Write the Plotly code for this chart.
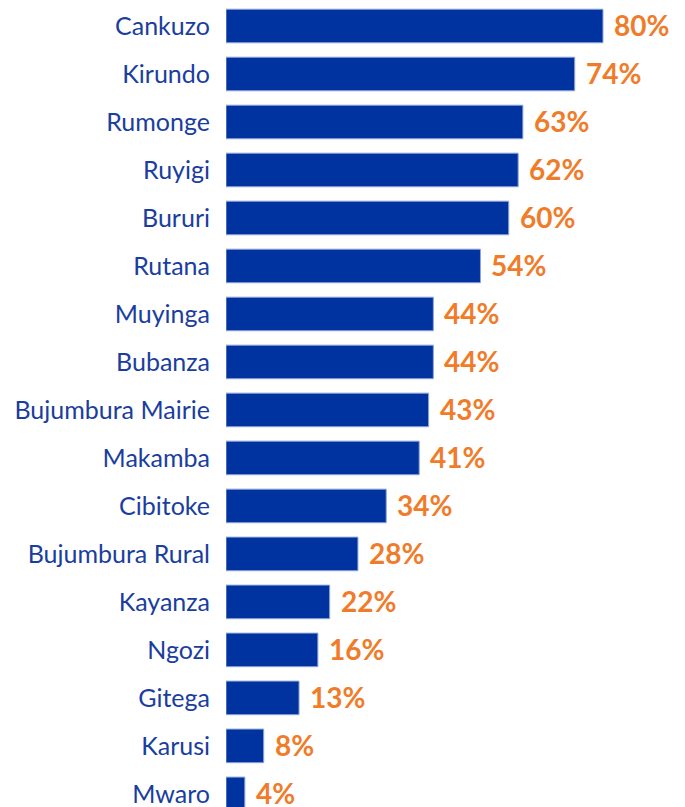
import plotly.graph_objects as go

provinces = ["Cankuzo", "Kirundo", "Rumonge", "Ruyigi", "Bururi", "Rutana", "Muyinga",
             "Bubanza", "Bujumbura Mairie", "Makamba", "Cibitoke", "Bujumbura Rural",
             "Kayanza", "Ngozi", "Gitega", "Karusi", "Mwaro"]
# bar lengths as drawn in the picture
values = [80, 74, 63, 62, 60, 54, 44, 44, 43, 41, 34, 28, 22, 19.5, 15.5, 8, 4]
# printed labels
labels = ["80%", "74%", "63%", "62%", "60%", "54%", "44%", "44%", "43%", "41%",
          "34%", "28%", "22%", "16%", "13%", "8%", "4%"]

BAR = "#0033A0"
ORANGE = "#F07C2A"
TEXT = "#1A3E9E"

fig = go.Figure(go.Bar(
    x=values, y=provinces, orientation="h",
    marker=dict(color=BAR, line=dict(color="#8FA6D8", width=1)),
    hoverinfo="skip",
))

for p, v, lab in zip(provinces, values, labels):
    fig.add_annotation(x=v, y=p, text=f"<b>{lab}</b>", showarrow=False,
                       xanchor="left", yanchor="middle", xshift=9, yshift=1,
                       font=dict(family="Lato", size=28, color=ORANGE))

fig.update_layout(
    width=685, height=807,
    margin=dict(l=218, r=0, t=0, b=0),
    paper_bgcolor="white", plot_bgcolor="white",
    bargap=0.30,
    showlegend=False,
    xaxis=dict(range=[0, 99.1], visible=False, fixedrange=True),
    yaxis=dict(range=[16.44, -0.375], showgrid=False, showline=False, zeroline=False,
               ticks="", ticklabelstandoff=15,
               tickfont=dict(family="Lato", size=25, color=TEXT)),
)

fig.write_html("out.html")
